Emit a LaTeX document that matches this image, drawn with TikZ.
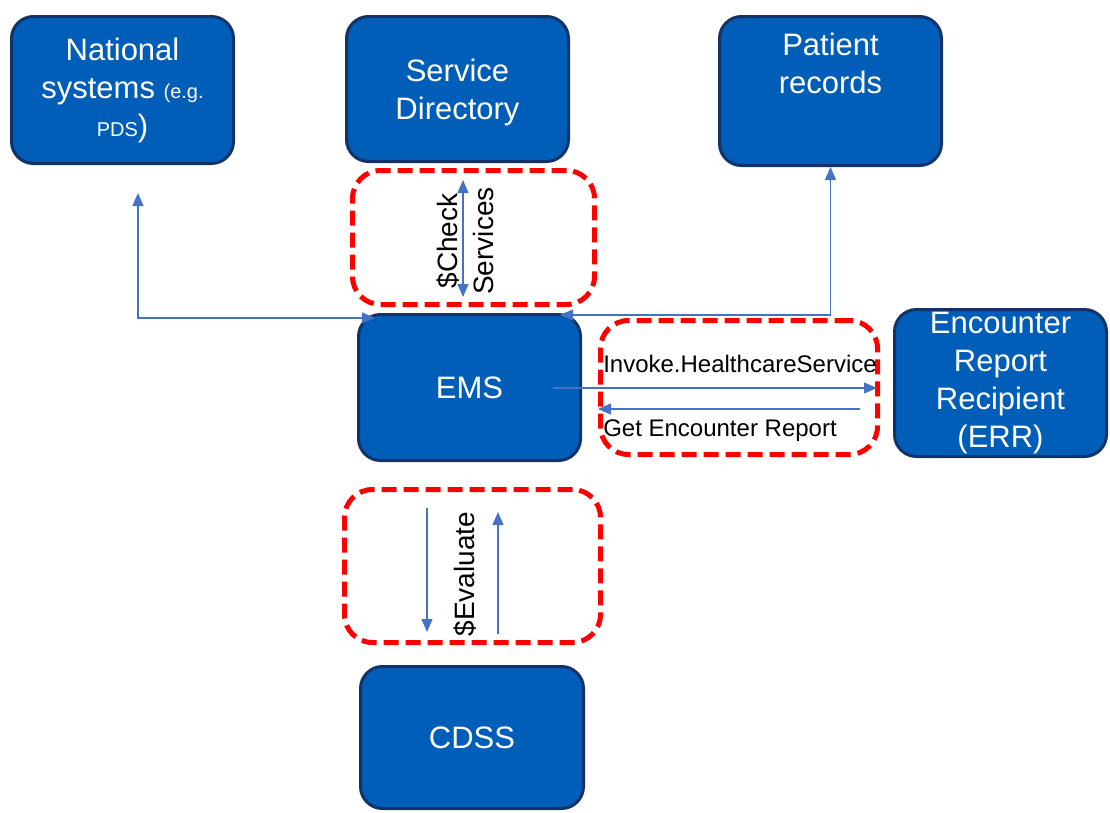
\documentclass[tikz,border=0pt]{standalone}
\usepackage{fontspec}
\setmainfont{Liberation Sans}
\usetikzlibrary{arrows.meta}
\definecolor{nhsblue}{RGB}{0,94,184}
\definecolor{boxrim}{RGB}{18,50,104}
\definecolor{linkblue}{RGB}{68,114,196}

\begin{document}
\begin{tikzpicture}[x=1pt,y=1pt,
   sys/.style={draw=boxrim,line width=3pt,fill=nhsblue,rounded corners=22pt,text=white,align=center,
      font=\fontsize{31}{38}\selectfont,inner sep=2pt},
   grp/.style={draw=red,line width=5pt,dash pattern=on 15pt off 7pt,rounded corners=28pt},
   link/.style={-{Triangle[length=13pt,width=11pt]},linkblue,line width=1.2pt},
   both/.style={{Triangle[length=13pt,width=11pt]}-{Triangle[length=13pt,width=11pt]},linkblue,line width=1.2pt},
   lbl/.style={font=\fontsize{24}{28}\selectfont,inner sep=0pt},
   vlbl/.style={font=\fontsize{28}{36}\selectfont,rotate=90,align=center,inner sep=0pt}]
\useasboundingbox (0,0) rectangle (1110,-812);
\node[sys,minimum width=222pt,minimum height=147pt] (nat) at (122.5,-90)
   {National\\systems {\fontsize{20}{24}\selectfont(e.g.}\\{\fontsize{20}{24}\selectfont PDS})};
\node[sys,minimum width=222pt,minimum height=145pt] (sd) at (457.5,-89) {\mbox{}\\[-8pt]Service\\Directory};
\node[sys,minimum width=222pt,minimum height=149pt] (pr) at (830.5,-91) {Patient\\records\\[18pt]};
\node[sys,minimum width=222pt,minimum height=146pt] (ems) at (469.5,-387.5) {EMS};
\node[sys,minimum width=212pt,minimum height=147pt] (err) at (1000.5,-383) {Encounter\\Report\\Recipient\\(ERR)};
\node[sys,minimum width=223pt,minimum height=142pt] (cdss) at (472,-737.5) {CDSS};
\node[grp,minimum width=242pt,minimum height=134pt] (chk) at (473.5,-237.5) {};
\node[grp,minimum width=277pt,minimum height=134pt] (inv) at (739,-387.5) {};
\node[grp,minimum width=256pt,minimum height=153pt] (evl) at (472.5,-566) {};
\coordinate (chkT) at (463,-180);
\coordinate (chkB) at (463,-297);
\coordinate (natIn) at (138,-193);
\coordinate (emsL) at (375,-318);
\coordinate (emsR) at (560,-315);
\coordinate (emsOut) at (553,-388);
\coordinate (invR) at (877,-388);
\coordinate (getR) at (860,-409);
\coordinate (getL) at (598,-409);
\coordinate (evDT) at (427,-508);
\coordinate (evDB) at (427,-632);
\coordinate (evUB) at (498,-634);
\coordinate (evUT) at (498,-512);
\draw[both] (chkT) -- (chkB);
\draw[both] (natIn) |- (emsL);
\draw[both] (emsR) -| (pr.south);
\draw[link] (emsOut) -- (invR);
\draw[link] (getR) -- (getL);
\draw[link] (evDT) -- (evDB);
\draw[link] (evUB) -- (evUT);
\node[vlbl] (chktext) at (465,-241) {\$Check\\Services};
\node[vlbl] (evltext) at (465,-574) {\$Evaluate};
\node[lbl] (invtext) at (740,-364) {Invoke.HealthcareService};
\node[lbl] (gettext) at (720,-431) {Get Encounter Report};
\end{tikzpicture}
\end{document}
